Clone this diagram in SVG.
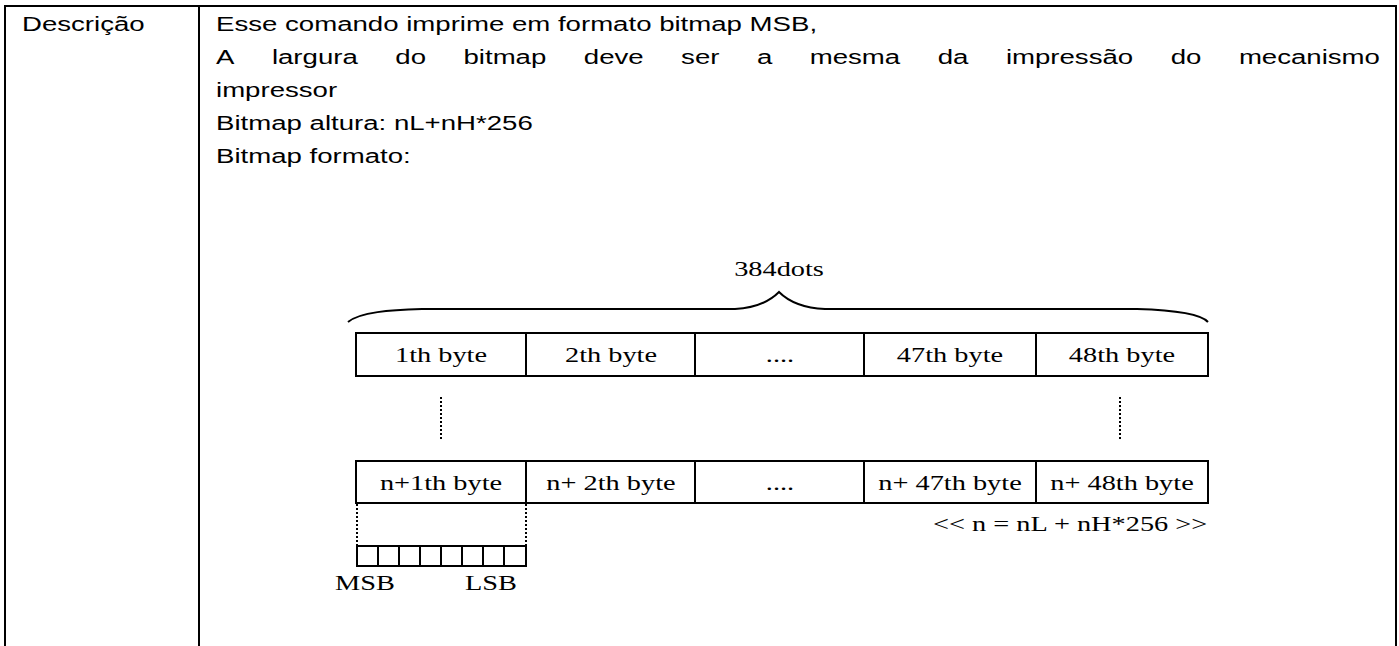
<svg xmlns="http://www.w3.org/2000/svg" width="1399" height="646" viewBox="0 0 1399 646">
<style>
.t{font-family:"Liberation Sans",Arial,sans-serif;font-size:20px;fill:#000}
.s{font-family:"Liberation Serif","Times New Roman",serif;font-size:21px;fill:#000}
.c{text-anchor:middle}
.b{fill:none;stroke:#000;stroke-width:2}
.d{fill:none;stroke:#000;stroke-width:2;stroke-dasharray:2 2}
</style>
<rect width="1399" height="646" fill="#fff"/>
<g id="table">
<path d="M5,646 V6 H1396 V646 M199,6 V646" fill="none" stroke="#000" stroke-width="2"/>
</g>
<g id="label"><text class="t" transform="translate(22,31) scale(1.38,1)">Descrição</text></g>
<g id="description">
<text class="t" transform="translate(216,31) scale(1.38,1)">Esse comando imprime em formato bitmap MSB,</text>
<text class="t" transform="scale(1.38,1)" y="64"><tspan x="156.52">A</tspan><tspan x="197.03">largura</tspan><tspan x="286.45">do</tspan><tspan x="335.87">bitmap</tspan><tspan x="423.04">deve</tspan><tspan x="493.55">ser</tspan><tspan x="548.48">a</tspan><tspan x="586.74">mesma</tspan><tspan x="679.49">da</tspan><tspan x="728.91">impressão</tspan><tspan x="848.33">do</tspan><tspan x="897.75">mecanismo</tspan></text>
<text class="t" transform="translate(216,97) scale(1.38,1)">impressor</text>
<text class="t" transform="translate(216,130) scale(1.38,1)">Bitmap altura: nL+nH*256</text>
<text class="t" transform="translate(216,163) scale(1.38,1)">Bitmap formato:</text>
</g>
<g id="brace">
<path class="b" d="M348,322 C360,312 390,310 422,309 L735,309 C755,308 770,301 779,292 C788,301 803,308 825,309 L1137,309 C1170,310 1200,313 1208,322"/>
<text class="s c" transform="translate(779,276) scale(1.35,1)">384dots</text>
</g>
<g id="row1">
<rect class="b" x="356" y="333" width="852" height="43"/>
<path class="b" d="M526,333 V376 M695,333 V376 M864,333 V376 M1036,333 V376"/>
<text class="s c" transform="translate(441,362) scale(1.35,1)">1th byte</text>
<text class="s c" transform="translate(611,362) scale(1.35,1)">2th byte</text>
<text class="s c" transform="translate(780,362) scale(1.35,1)">....</text>
<text class="s c" transform="translate(950,362) scale(1.35,1)">47th byte</text>
<text class="s c" transform="translate(1122,362) scale(1.35,1)">48th byte</text>
</g>
<g id="row2">
<rect class="b" x="356" y="461" width="852" height="42"/>
<path class="b" d="M526,461 V503 M695,461 V503 M864,461 V503 M1036,461 V503"/>
<text class="s c" transform="translate(441,490) scale(1.35,1)">n+1th byte</text>
<text class="s c" transform="translate(611,490) scale(1.35,1)">n+ 2th byte</text>
<text class="s c" transform="translate(780,490) scale(1.35,1)">....</text>
<text class="s c" transform="translate(950,490) scale(1.35,1)">n+ 47th byte</text>
<text class="s c" transform="translate(1122,490) scale(1.35,1)">n+ 48th byte</text>
</g>
<g id="bits">
<rect class="b" x="357" y="546" width="169" height="20"/>
<path class="b" d="M378,546 V566 M399,546 V566 M420,546 V566 M441,546 V566 M462,546 V566 M483,546 V566 M504,546 V566"/>
<text class="s" transform="translate(335,590) scale(1.35,1)">MSB</text>
<text class="s" transform="translate(465,590) scale(1.35,1)">LSB</text>
</g>
<g id="formula"><text class="s" transform="translate(933,531) scale(1.35,1)">&lt;&lt; n = nL + nH*256 &gt;&gt;</text></g>
<g id="connectors">
<path class="d" d="M441,397 V441 M1120,397 V441 M357,504 V546 M526,504 V546"/>
</g>
</svg>
